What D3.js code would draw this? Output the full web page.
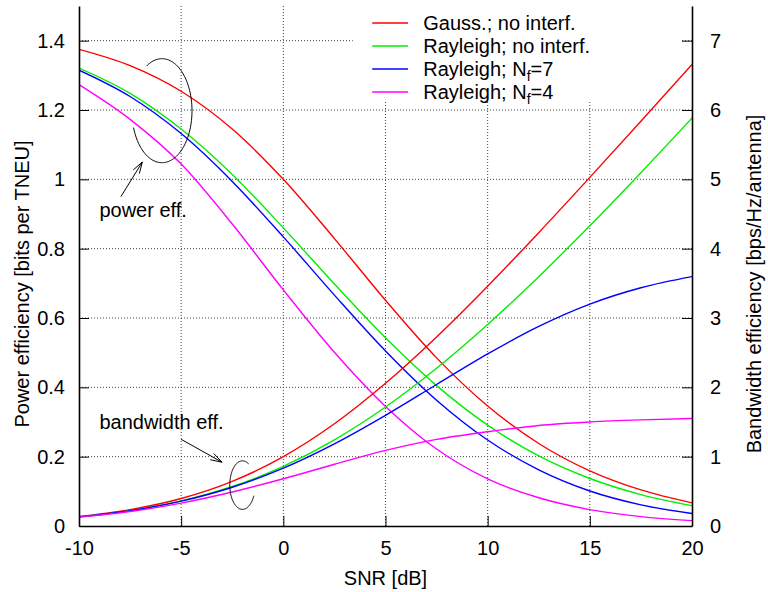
<!DOCTYPE html>
<meta charset="utf-8">
<style>
body { margin: 0; background: #fff; }
svg { font-family: "Liberation Sans", Arial, sans-serif; }
.axis path, .axis line { stroke: #000; }
.axis text { font-size: 20px; fill: #000; }
.grid line { stroke: #444; stroke-dasharray: 1,2; }
.curve { fill: none; stroke-width: 1.4; }
.note { fill: none; stroke: #000; stroke-width: 1; }
</style>
<body>
<script src="https://cdnjs.cloudflare.com/ajax/libs/d3/7.8.5/d3.min.js"></script>
<script>

var snrDb = [-10, -7.5, -5, -2.5, 0, 2.5, 5, 7.5, 10, 12.5, 15, 17.5, 20];

// power efficiency, left axis
var gaussPow = [1.375, 1.328, 1.254, 1.145, 1.000, 0.829, 0.651, 0.485, 0.346, 0.238, 0.159, 0.104, 0.0666];
var rayPow   = [1.321, 1.248, 1.145, 1.014, 0.860, 0.698, 0.543, 0.405, 0.291, 0.202, 0.137, 0.0906, 0.0588];
var nf7Pow   = [1.315, 1.239, 1.132, 0.994, 0.834, 0.666, 0.505, 0.363, 0.248, 0.162, 0.101, 0.0611, 0.0360];
var nf4Pow   = [1.273, 1.173, 1.044, 0.871, 0.681, 0.501, 0.345, 0.222, 0.136, 0.0815, 0.0474, 0.0272, 0.0155];

// bandwidth efficiency, right axis
var gaussBw = [0.1375, 0.2361, 0.3964, 0.6437, 1.000, 1.474, 2.058, 2.727, 3.459, 4.231, 5.028, 5.839, 6.658];
var rayBw   = [0.1321, 0.2219, 0.3622, 0.5700, 0.860, 1.242, 1.716, 2.275, 2.907, 3.596, 4.330, 5.096, 5.884];
var nf7Bw   = [0.1315, 0.2203, 0.3579, 0.5591, 0.834, 1.185, 1.596, 2.041, 2.482, 2.879, 3.201, 3.437, 3.597];
var nf4Bw   = [0.1273, 0.2086, 0.330, 0.490, 0.681, 0.890, 1.090, 1.250, 1.360, 1.450, 1.500, 1.530, 1.550];

var seriesNames = ["Gauss.; no interf.", "Rayleigh; no interf.", "Rayleigh; N_f=7", "Rayleigh; N_f=4"];
var seriesColors = ["#ff0000", "#00ee00", "#0000ff", "#ff00ff"];

var xTicks = [-10, -5, 0, 5, 10, 15, 20];
var yLeftTicks = [0, 0.2, 0.4, 0.6, 0.8, 1, 1.2, 1.4];
var yRightTicks = [0, 1, 2, 3, 4, 5, 6, 7];

var W = 768, H = 592;
var m = {left: 79, right: 76, top: 6, bottom: 66};
var w = W - m.left - m.right, h = H - m.top - m.bottom;

var x = d3.scaleLinear().domain([-10, 20]).range([0, w]);
var yL = d3.scaleLinear().domain([0, 1.5]).range([h, 0]);
var yR = d3.scaleLinear().domain([0, 7.5]).range([h, 0]);

var svg = d3.select("body").append("svg")
    .attr("width", W)
    .attr("height", H);

var g = svg.append("g")
    .attr("transform", "translate(" + m.left + "," + m.top + ")");

g.append("clipPath").attr("id", "clip")
  .append("rect").attr("width", w).attr("height", h);

// grid
var grid = g.append("g").attr("class", "grid");
grid.selectAll("line.v")
    .data(xTicks.slice(1, -1))
  .enter().append("line")
    .attr("class", "v")
    .attr("x1", function(d) { return x(d); })
    .attr("x2", function(d) { return x(d); })
    .attr("y1", 0).attr("y2", h);
grid.selectAll("line.h")
    .data(yLeftTicks.slice(1))
  .enter().append("line")
    .attr("class", "h")
    .attr("x1", 0).attr("x2", w)
    .attr("y1", function(d) { return yL(d); })
    .attr("y2", function(d) { return yL(d); });

// white box behind the key hides the grid there
g.append("rect")
    .attr("x", x(3.4)).attr("y", -m.top)
    .attr("width", x(19.5) - x(3.4)).attr("height", yL(1.22) + m.top - 3)
    .attr("fill", "#fff");

// curves
var curves = g.append("g").attr("clip-path", "url(#clip)");
var powSets = [gaussPow, rayPow, nf7Pow, nf4Pow];
var bwSets = [gaussBw, rayBw, nf7Bw, nf4Bw];

function drawSet(vals, yScale, color) {
  var line = d3.line()
      .x(function(d, i) { return x(snrDb[i]); })
      .y(function(d) { return yScale(d); })
      .curve(d3.curveMonotoneX);
  curves.append("path")
      .attr("class", "curve")
      .attr("stroke", color)
      .attr("d", line(vals));
}

powSets.forEach(function(s, i) { drawSet(s, yL, seriesColors[i]); });
bwSets.forEach(function(s, i) { drawSet(s, yR, seriesColors[i]); });

// key
var leg = g.selectAll("g.item")
    .data(seriesNames)
  .enter().append("g")
    .attr("class", "item")
    .attr("transform", function(d, i) { return "translate(0," + (17 + i * 23) + ")"; });

leg.append("line")
    .attr("x1", x(4.35)).attr("x2", x(6.1))
    .attr("y1", 0).attr("y2", 0)
    .attr("stroke", function(d, i) { return seriesColors[i]; })
    .attr("stroke-width", 1.4);

leg.append("text")
    .attr("x", x(6.85))
    .attr("y", 7)
    .style("font-size", "20px")
    .each(function(d) {
      var t = d3.select(this);
      var parts = d.split("_");
      t.append("tspan").text(parts[0]);
      if (parts.length > 1) {
        t.append("tspan").attr("dy", 5).style("font-size", "14px").text(parts[1].charAt(0));
        t.append("tspan").attr("dy", -5).text(parts[1].slice(1));
      }
    });

// annotations
function ellipseArc(cx, cy, rx, ry, a0, a1) {
  var pts = d3.range(a0, a1 + 0.5, 2).map(function(a) {
    var r = a * Math.PI / 180;
    return [cx + rx * Math.cos(r), cy + ry * Math.sin(r)];
  });
  return d3.line()(pts);
}

function arrow(x1, y1, x2, y2) {
  var a = Math.atan2(y2 - y1, x2 - x1), L = 12, s = 0.3;
  g.append("line").attr("class", "note")
      .attr("x1", x1).attr("y1", y1).attr("x2", x2).attr("y2", y2);
  g.append("path").attr("class", "note")
      .attr("d", "M" + (x2 - L * Math.cos(a - s)) + "," + (y2 - L * Math.sin(a - s)) +
                 "L" + x2 + "," + y2 +
                 "L" + (x2 - L * Math.cos(a + s)) + "," + (y2 - L * Math.sin(a + s)));
}

g.append("path").attr("class", "note")
    .attr("d", ellipseArc(x(-5.94), yL(1.198), x(-8.53) - x(-10), yL(0) - yL(0.150), -121, 162));
arrow(x(-7.95), yL(0.95), x(-6.9), yL(1.05));
g.append("text")
    .attr("x", x(-9.0)).attr("y", yL(0.89))
    .style("font-size", "20px")
    .text("power eff.");

g.append("path").attr("class", "note")
    .attr("d", ellipseArc(x(-2.0), yR(0.59), x(-9.38) - x(-10), yR(0) - yR(0.35), 26, 301));
arrow(x(-5.0), yR(1.25), x(-3.0), yR(0.92));
g.append("text")
    .attr("x", x(-9.0)).attr("y", yR(1.4))
    .style("font-size", "20px")
    .text("bandwidth eff.");

// axes, ticks point inward
var plain = function(d) { return String(d); };

g.append("g")
    .attr("class", "axis")
    .attr("transform", "translate(0," + h + ")")
    .call(d3.axisBottom(x).tickValues(xTicks).tickSizeInner(-10).tickSizeOuter(0).tickPadding(15)
      .tickFormat(plain))
    .call(function(s) { s.select(".domain").attr("stroke-width", 1.6); });

g.append("g")
    .attr("class", "axis")
    .call(d3.axisLeft(yL).tickValues(yLeftTicks).tickSizeInner(-10).tickSizeOuter(0).tickPadding(14)
      .tickFormat(plain))
    .call(function(s) { s.select(".domain").attr("stroke-width", 1.6); });

g.append("g")
    .attr("class", "axis")
    .attr("transform", "translate(" + w + ",0)")
    .call(d3.axisRight(yR).tickValues(yRightTicks).tickSizeInner(-10).tickSizeOuter(0).tickPadding(18)
      .tickFormat(plain))
    .call(function(s) { s.select(".domain").attr("stroke-width", 1.6); });

// axis titles
svg.append("text")
    .attr("x", m.left + w / 2).attr("y", 585)
    .attr("text-anchor", "middle")
    .style("font-size", "20px")
    .text("SNR [dB]");

svg.append("text")
    .attr("transform", "translate(29," + (m.top + h / 2 + 18) + ") rotate(-90)")
    .attr("text-anchor", "middle")
    .style("font-size", "20px")
    .text("Power efficiency [bits per TNEU]");

svg.append("text")
    .attr("transform", "translate(761," + (m.top + h / 2 + 18) + ") rotate(-90)")
    .attr("text-anchor", "middle")
    .style("font-size", "20px")
    .text("Bandwidth efficiency [bps/Hz/antenna]");

</script>
